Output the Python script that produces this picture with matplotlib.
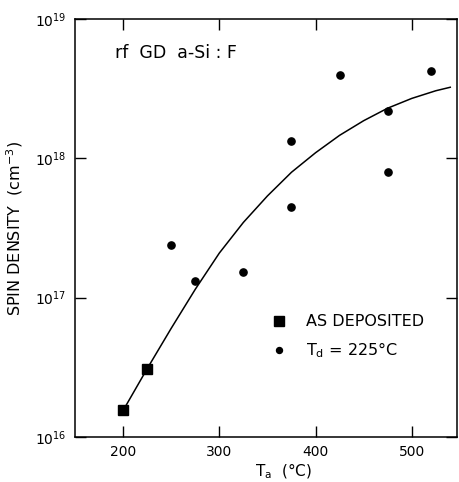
import numpy as np
import matplotlib
matplotlib.use('Agg')
import matplotlib.pyplot as plt

# as-deposited films
dep_temp = [200, 225]
dep_spins = [1.56e16, 3.08e16]

# annealed films, Td = 225 C
ann_temp = [250, 275, 325, 375, 375, 425, 475, 475, 520]
ann_spins = [2.39e17, 1.31e17, 1.52e17, 1.34e18, 4.46e17, 3.94e18, 2.2e18, 8.0e17, 4.26e18]

# guide curve through the data (log10 of spin density)
fit_temp = [200, 225, 250, 275, 300, 325, 350, 375, 400, 425, 450, 475, 500, 525, 540]
fit_log = [16.19, 16.49, 16.78, 17.06, 17.32, 17.54, 17.73, 17.90, 18.04, 18.165,
           18.27, 18.36, 18.43, 18.485, 18.51]

xticks = [200, 300, 400, 500]
yticks = [1e16, 1e17, 1e18, 1e19]
ytick_labels = [r'$10^{16}$', r'$10^{17}$', r'$10^{18}$', r'$10^{19}$']

plt.rcParams['font.family'] = ['DejaVu Sans']
plt.rcParams['mathtext.fontset'] = 'dejavusans'

fig = plt.figure(figsize=(4.59, 4.82), dpi=100)
ax = fig.add_axes([0.1634, 0.0934, 0.8322, 0.8672])

ax.plot(fit_temp, 10 ** np.array(fit_log), color='black', lw=1.1, zorder=2)
ax.plot(dep_temp, dep_spins, 's', color='black', ms=6.5, label='AS DEPOSITED', zorder=3)
ax.plot(ann_temp, ann_spins, 'o', color='black', ms=5.2, label=r'T$_\mathrm{d}$ = 225°C', zorder=3)

ax.set_yscale('log')
ax.set_xlim(150, 547)
ax.set_ylim(1e16, 1e19)
ax.set_xticks(xticks)
ax.set_yticks(yticks)
ax.set_yticklabels(ytick_labels)
ax.minorticks_off()
ax.tick_params(direction='in', length=8, width=1.0, labelsize=10,
               top=True, right=True, pad=6)
for s in ax.spines.values():
    s.set_linewidth(1.1)

ax.set_ylabel('SPIN DENSITY  (cm$^{-3}$)', fontsize=11.5)
ax.yaxis.set_label_coords(-0.132, 0.5)
ax.set_xlabel(r'T$_\mathrm{a}$  (°C)', fontsize=11)
ax.xaxis.set_label_coords(0.545, -0.058)

ax.text(0.105, 0.919, 'rf  GD  a-Si : F', transform=ax.transAxes,
        fontsize=12.5, va='center', ha='left')

leg = ax.legend(loc='upper left', bbox_to_anchor=(0.512, 0.294), frameon=False,
                fontsize=11.5, borderpad=0, borderaxespad=0, handlelength=1.0,
                handletextpad=1.2, labelspacing=0.7)
leg.legend_handles[1].set_markersize(4.3)

fig.savefig('out.png', dpi=100)
